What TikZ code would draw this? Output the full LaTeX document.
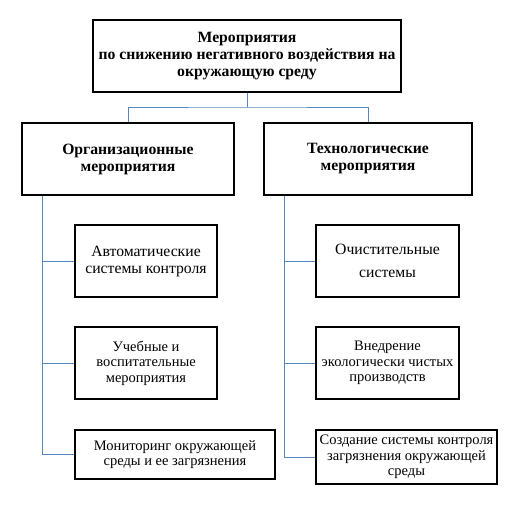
\documentclass[tikz,border=0pt]{standalone}
\usepackage{fontspec}
\setmainfont{Liberation Serif}
\definecolor{LinkBlue}{RGB}{88, 134, 190}
\usetikzlibrary{positioning, calc}

\begin{document}
\begin{tikzpicture}[x=1pt, y=-1pt,
    base/.style={draw, line width=1.1pt, align=center, inner sep=1pt},
    head/.style={base, font=\rmfamily\fontsize{15.7}{17}\selectfont\bfseries, minimum height=72pt},
    item/.style={base, font=\rmfamily\fontsize{14.5}{15.5}\selectfont},
    big/.style={font=\rmfamily\fontsize{15.7}{17}\selectfont},
    link/.style={draw=LinkBlue, line width=0.9pt}]
    \useasboundingbox (0,0) rectangle (528,507);

    % Nodes
    \node [head, minimum width=308pt] (main) at (247,56) {Мероприятия\\по снижению негативного воздействия на\\окружающую среду};
    \node [head, minimum width=212pt] (org) at (128,159) {Организационные\\мероприятия};
    \node [head, minimum width=208pt] (tech) at (368,159) {Технологические\\мероприятия};

    \node [item, big, minimum width=142pt, minimum height=72pt] (auto) at (146,261) {Автоматические\\системы контроля};
    \node [item, minimum width=142pt, minimum height=72pt] (edu) at (146,363) {Учебные и\\воспитательные\\мероприятия};
    \node [item, minimum width=200pt, minimum height=49pt] (monit) at (175,454.5) {Мониторинг окружающей\\среды и ее загрязнения};

    \node [item, big, minimum width=143pt, minimum height=72pt] (clean) at (387.5,261) {Очистительные\\[6pt]системы};
    \node [item, minimum width=143pt, minimum height=72pt] (green) at (387.5,363) {Внедрение\\экологически чистых\\производств};
    \node [item, minimum width=181pt, minimum height=54pt] (ctrl) at (406.5,457) {Создание системы контроля\\загрязнения окружающей\\среды};

    \coordinate (split) at (247,107);
    \coordinate (ltop) at ($(org.south west)+(21,0)$);
    \coordinate (rtop) at ($(tech.south west)+(21,0)$);

    % Connectors
    \draw [link] (main.south) -- (split);
    \draw [link] (org.north) |- (split) -| (tech.north);
    \draw [link] (ltop) |- (monit.west);
    \draw [link] (ltop |- auto.west) -- (auto.west);
    \draw [link] (ltop |- edu.west) -- (edu.west);
    \draw [link] (rtop) |- (ctrl.west);
    \draw [link] (rtop |- clean.west) -- (clean.west);
    \draw [link] (rtop |- green.west) -- (green.west);
  \end{tikzpicture}
\end{document}
